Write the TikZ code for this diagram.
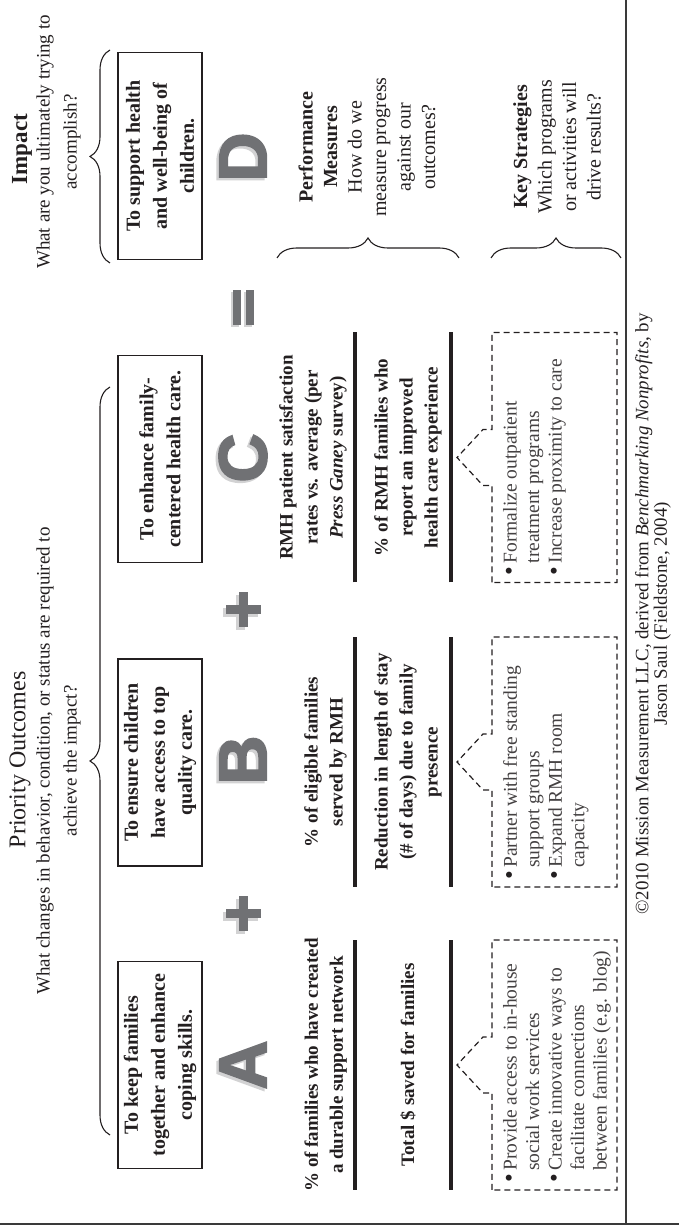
\documentclass[tikz,border=0pt]{standalone}
\usepackage{fontspec}
\setmainfont{Liberation Serif}
\newfontfamily\heavyfont{Liberation Sans}[FakeBold=2.5]
\usetikzlibrary{decorations.pathreplacing}

\definecolor{ink}{HTML}{231F20}
\definecolor{lettergray}{HTML}{707174}
\definecolor{shadowgray}{HTML}{D2D2D3}
\definecolor{framegray}{HTML}{3A3A3A}

\newcommand\bitem{\makebox[12pt][l]{\color{ink}\smash{\raisebox{-0.5pt}{\fontsize{25}{0}\selectfont\textbullet}}}}
\newcommand\bcont{\hspace*{12pt}}

\tikzset{
  goalbox/.style={draw=ink, line width=1.3pt, minimum width=207pt, minimum height=84pt,
    inner sep=0pt, align=center, text=ink, font=\fontsize{20}{27}\selectfont\bfseries},
  heading/.style={inner sep=0pt, text=ink, font=\fontsize{24}{28}\selectfont},
  subheading/.style={inner sep=0pt, align=center, text=ink, font=\fontsize{19}{27}\selectfont},
  measure/.style={inner sep=0pt, align=center, text=ink, font=\fontsize{19}{25}\selectfont\bfseries},
  sidenote/.style={inner sep=0pt, align=center, text=ink, font=\fontsize{20}{24.5}\selectfont},
  bulletlist/.style={inner sep=0pt, align=left, anchor=north west, text=ink!85,
    font=\fontsize{19.5}{22.5}\selectfont},
  bigletter/.style={inner sep=0pt, font=\heavyfont\bfseries\fontsize{68}{68}\selectfont},
  bracket/.style={decorate, decoration={brace, amplitude=20pt}, draw=ink, line width=1.1pt},
  measurerule/.style={draw=ink, line width=3.5pt},
  framerule/.style={draw=framegray, line width=2pt},
  plusmark/.pic={
    \fill (-17.5,-4.5) rectangle (17.5,4.5);
    \fill (-4.5,-17.5) rectangle (4.5,17.5);
  },
  equalsmark/.pic={
    \fill (-17.5,2.5) rectangle (17.5,10.5);
    \fill (-17.5,-10.5) rectangle (17.5,-2.5);
  },
  % dashed strategy box with a pointer towards the measures above it
  calloutbox/.pic={
    \draw[ink, line width=1.2pt, dash pattern=on 6pt off 4pt]
      (-125,187) -- (-28,187) -- (-28,196) -- (0,222) -- (28,196) -- (28,187)
      -- (125,187) -- (125,62) -- (-125,62) -- cycle;
  }
}

\begin{document}
\begin{tikzpicture}[x=1pt, y=1pt]
\useasboundingbox (0,0) rectangle (679,1227);
\begin{scope}[shift={(679,0)}, rotate=90, transform shape]

% page frame
\draw[framerule] (3,0) -- (3,679);
\draw[framerule] (3,53) -- (1227,53);

% headings
\node[heading] (po-title) at (467,659) {Priority Outcomes};
\node[subheading] (po-sub) at (466,620.5)
  {What changes in behavior, condition, or status are required to\\achieve the impact?};
\node[heading, font=\fontsize{23}{28}\selectfont\bfseries] (im-title) at (1078,657) {Impact};
\node[subheading] (im-sub) at (1085,620.5) {What are you ultimately trying to\\accomplish?};

\coordinate (po-l) at (92,569);
\coordinate (po-r) at (840,569);
\coordinate (im-l) at (964,569);
\coordinate (im-r) at (1177,569);
\draw[bracket] (po-l) -- (po-r);
\draw[bracket] (im-l) -- (im-r);

% outcome boxes
\node[goalbox] (goal-a) at (162,519) {To keep families\\together and enhance\\coping skills.};
\node[goalbox] (goal-b) at (464.5,519) {To ensure children\\have access to top\\quality care.};
\node[goalbox] (goal-c) at (768,519) {To enhance family-\\centered health care.};
\node[goalbox] (goal-d) at (1071,519) {To support health\\and well-being of\\children.};

% large letters with soft shadow
\foreach \nm/\lt/\cx in {a/A/162, b/B/467, c/C/769, d/D/1070} {
  \node[bigletter, text=shadowgray] (letter-\nm-shadow) at (\cx-2.5,438.5) {\lt};
  \node[bigletter, text=lettergray] (letter-\nm) at (\cx,436) {\lt};
}

% operators
\foreach \px in {313,617} {
  \pic[color=shadowgray] at (\px-2.5,438.5) {plusmark};
  \pic[color=lettergray] at (\px,436) {plusmark};
}
\pic[color=shadowgray] at (917,438) {equalsmark};
\pic[color=lettergray] at (919.5,435.5) {equalsmark};

% performance measures
\foreach \cx in {162,465,769.5} {
  \draw[measurerule] (\cx-125,324) -- (\cx+125,324);
  \draw[measurerule] (\cx-125,228) -- (\cx+125,228);
}
\node[measure, anchor=south] (meas-a1) at (162,332) {\% of families who have created\\a durable support network};
\node[measure] (meas-a2) at (162,271) {Total \$ saved for families};
\node[measure, anchor=south] (meas-b1) at (465,332) {\% of eligible families\\served by RMH};
\node[measure] (meas-b2) at (465,271) {Reduction in length of stay\\(\# of days) due to family\\presence};
\node[measure, anchor=south] (meas-c1) at (769.5,332) {RMH patient satisfaction\\rates vs. average (per\\\textit{Press Ganey} survey)};
\node[measure] (meas-c2) at (769.5,271) {\% of RMH families who\\report an improved\\health care experience};

% key strategies
\pic at (162,0) {calloutbox};
\pic at (465,0) {calloutbox};
\pic at (769.5,0) {calloutbox};
\node[bulletlist] (strat-a) at (44,176) {\bitem Provide access to in-house\\\bcont social work services\\\bitem Create innovative ways to\\\bcont facilitate connections\\\bcont between families (e.g. blog)};
\node[bulletlist] (strat-b) at (347,176) {\bitem Partner with free standing\\\bcont support groups\\\bitem Expand RMH room\\\bcont capacity};
\node[bulletlist] (strat-c) at (651.5,176) {\bitem Formalize outpatient\\\bcont treatment programs\\\bitem Increase proximity to care};

% side labels
\node[sidenote] (perf-label) at (1080,312) {\textbf{Performance}\\\textbf{Measures}\\How do we\\measure progress\\against our\\outcomes?};
\node[sidenote] (key-label) at (1080,122) {\textbf{Key Strategies}\\Which programs\\or activities will\\drive results?};
\coordinate (pm-top) at (969,402);
\coordinate (pm-bot) at (969,220);
\coordinate (ks-top) at (969,188);
\coordinate (ks-bot) at (969,58);
\draw[bracket] (pm-top) -- (pm-bot);
\draw[bracket] (ks-top) -- (ks-bot);

% credit line
\node[inner sep=0pt, align=center, text=ink, font=\fontsize{18.9}{18.5}\selectfont] (credit) at (613,26)
  {\textcopyright 2010 Mission Measurement LLC, derived from \textit{Benchmarking Nonprofits}, by\\Jason Saul (Fieldstone, 2004)};

\end{scope}
\end{tikzpicture}
\end{document}
